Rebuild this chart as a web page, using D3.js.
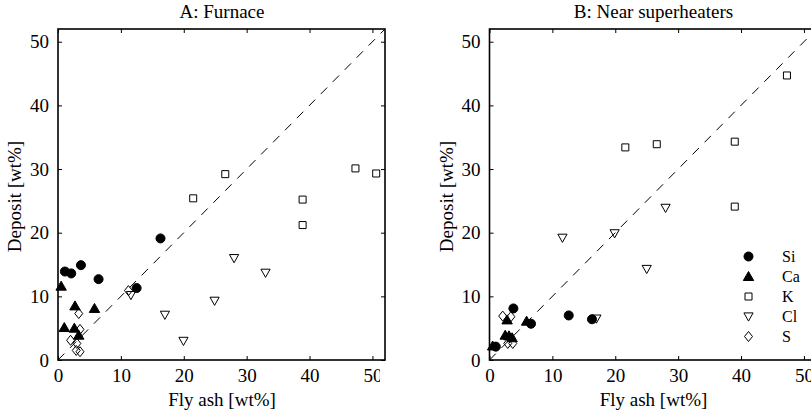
<!DOCTYPE html>
<html><head><meta charset="utf-8">
<script src="https://cdn.jsdelivr.net/npm/d3@7"></script>
<style>body{margin:0;background:#fff}svg{display:block}text{font-family:"Liberation Serif","Times New Roman",serif;fill:#000}</style>
</head><body><svg id="c" width="811" height="418"></svg>
<script>
// ---- data ----
const panelTitles = ["A: Furnace", "B: Near superheaters"];
const xTicks = [0, 10, 20, 30, 40, 50];
const yTicks = [0, 10, 20, 30, 40, 50];
const seriesNames = ["Si", "Ca", "K", "Cl", "S"];

const furnaceSi = [[1.1,13.9],[2.1,13.6],[3.65,14.9],[6.45,12.7],[12.5,11.3],[16.3,19.1]];
const furnaceCa = [[0.5,11.6],[2.7,8.5],[5.8,8.1],[1.0,5.1],[2.6,5.0],[3.3,3.9]];
const furnaceK  = [[21.5,25.4],[26.6,29.2],[38.9,25.2],[38.9,21.2],[47.3,30.1],[50.6,29.3]];
const furnaceCl = [[11.6,10.2],[17.0,7.1],[19.95,3.0],[24.9,9.3],[28.0,16.0],[33.0,13.7]];
const furnaceS  = [[11.2,10.9],[3.3,7.3],[3.5,4.8],[2.0,3.1],[3.0,2.6],[2.9,1.5],[3.5,1.3]];

const superSi = [[1.0,2.1],[3.8,8.1],[6.6,5.7],[12.6,7.0],[16.3,6.4]];
const superCa = [[2.8,6.3],[5.9,6.1],[2.5,3.9],[3.1,3.8],[3.6,3.5],[0.5,2.2]];
const superK  = [[21.6,33.4],[26.6,33.9],[39.0,34.3],[39.0,24.1],[47.3,44.7]];
const superCl = [[11.6,19.2],[19.9,19.9],[28.0,23.9],[25.0,14.3],[17.0,6.5]];
const superS  = [[2.1,6.9],[3.4,6.8],[2.9,2.6],[3.7,2.6]];

const identityLine = [[0,0],[52,52]];

// ---- drawing ----
const svg = d3.select("#c");
const plotTop = 29, plotBottom = 360, plotW = 327;
const panelLeft = [58, 489.5];
const shapes = {
  Si: {path: d3.symbol(d3.symbolCircle, 64)(), fill: "#000"},
  Ca: {path: "M0,-5L5.2,4L-5.2,4Z", fill: "#000"},
  K:  {path: "M-3.5,-3.5H3.5V3.5H-3.5Z", fill: "none"},
  Cl: {path: "M-4.6,-3.6L4.6,-3.6L0,4.6Z", fill: "none"},
  S:  {path: "M0,-5L4,0L0,5L-4,0Z", fill: "none"}
};
const panelData = [
  [furnaceSi, furnaceCa, furnaceK, furnaceCl, furnaceS],
  [superSi, superCa, superK, superCl, superS]
];

svg.append("defs").append("clipPath").attr("id","clipA")
  .append("rect").attr("x",0).attr("y",0).attr("width",380).attr("height",418);

panelLeft.forEach((left, pi) => {
  const x = d3.scaleLinear().domain([0,52]).range([left, left+plotW]);
  const y = d3.scaleLinear().domain([0,52]).range([plotBottom, plotTop]);
  const g = svg.append("g");
  const gl = pi === 0 ? svg.append("g").attr("clip-path","url(#clipA)") : g;

  // identity dashed line
  g.append("path").datum(identityLine)
    .attr("d", d3.line().x(d=>x(d[0])).y(d=>y(d[1])))
    .attr("fill","none").attr("stroke","#000").attr("stroke-width",1)
    .attr("stroke-dasharray","9,8");

  // axes (inward ticks, mirrored)
  const tl = 4;
  const ax = gl.append("g").attr("transform",`translate(0,${plotBottom})`)
    .call(d3.axisBottom(x).tickValues(xTicks).tickSize(-tl).tickPadding(9).tickSizeOuter(0));
  const axT = g.append("g").attr("transform",`translate(0,${plotTop})`)
    .call(d3.axisTop(x).tickValues(xTicks).tickSize(-tl).tickFormat("").tickSizeOuter(0));
  const ay = g.append("g").attr("transform",`translate(${left},0)`)
    .call(d3.axisLeft(y).tickValues(yTicks).tickSize(-tl).tickPadding(9).tickSizeOuter(0));
  const ayR = g.append("g").attr("transform",`translate(${left+plotW},0)`)
    .call(d3.axisRight(y).tickValues(yTicks).tickSize(-tl).tickFormat("").tickSizeOuter(0));
  [ax, axT, ay, ayR].forEach(a => {
    a.attr("font-family", null);
    a.select(".domain").remove();
    a.selectAll("line").attr("stroke","#000").attr("stroke-width",1);
    a.selectAll("text").style("font-family","'Liberation Serif',serif").style("font-size","19px");
  });

  // box
  g.append("rect").attr("x",left).attr("y",plotTop).attr("width",plotW).attr("height",plotBottom-plotTop)
    .attr("fill","none").attr("stroke","#000").attr("stroke-width",1.6);

  // markers
  seriesNames.forEach((name, si) => {
    const s = shapes[name];
    g.append("g").selectAll("path").data(panelData[pi][si]).join("path")
      .attr("transform", d => `translate(${x(d[0])},${y(d[1])})`)
      .attr("d", s.path).attr("fill", s.fill).attr("stroke","#000").attr("stroke-width",1);
  });

  // titles and labels
  const cx = left + 164;
  svg.append("text").attr("x",cx).attr("y",18).attr("text-anchor","middle")
    .style("font-size","19px").text(panelTitles[pi]);
  svg.append("text").attr("x",cx).attr("y",406).attr("text-anchor","middle")
    .style("font-size","19px").text("Fly ash [wt%]");
  svg.append("text").attr("transform",`translate(${left-37},${(plotTop+plotBottom)/2+2}) rotate(-90)`)
    .attr("text-anchor","middle").style("font-size","19px").text("Deposit [wt%]");

  // legend in panel B
  if (pi === 1) {
    const lg = svg.append("g");
    seriesNames.forEach((name, i) => {
      const ly = 256.5 + i*20;
      lg.append("path").attr("transform",`translate(748.5,${ly})`)
        .attr("d", shapes[name].path).attr("fill", shapes[name].fill)
        .attr("stroke","#000").attr("stroke-width",1);
      lg.append("text").attr("x",782).attr("y",ly).attr("dy","0.35em")
        .style("font-size","16px").text(name);
    });
  }
});
</script></body></html>
